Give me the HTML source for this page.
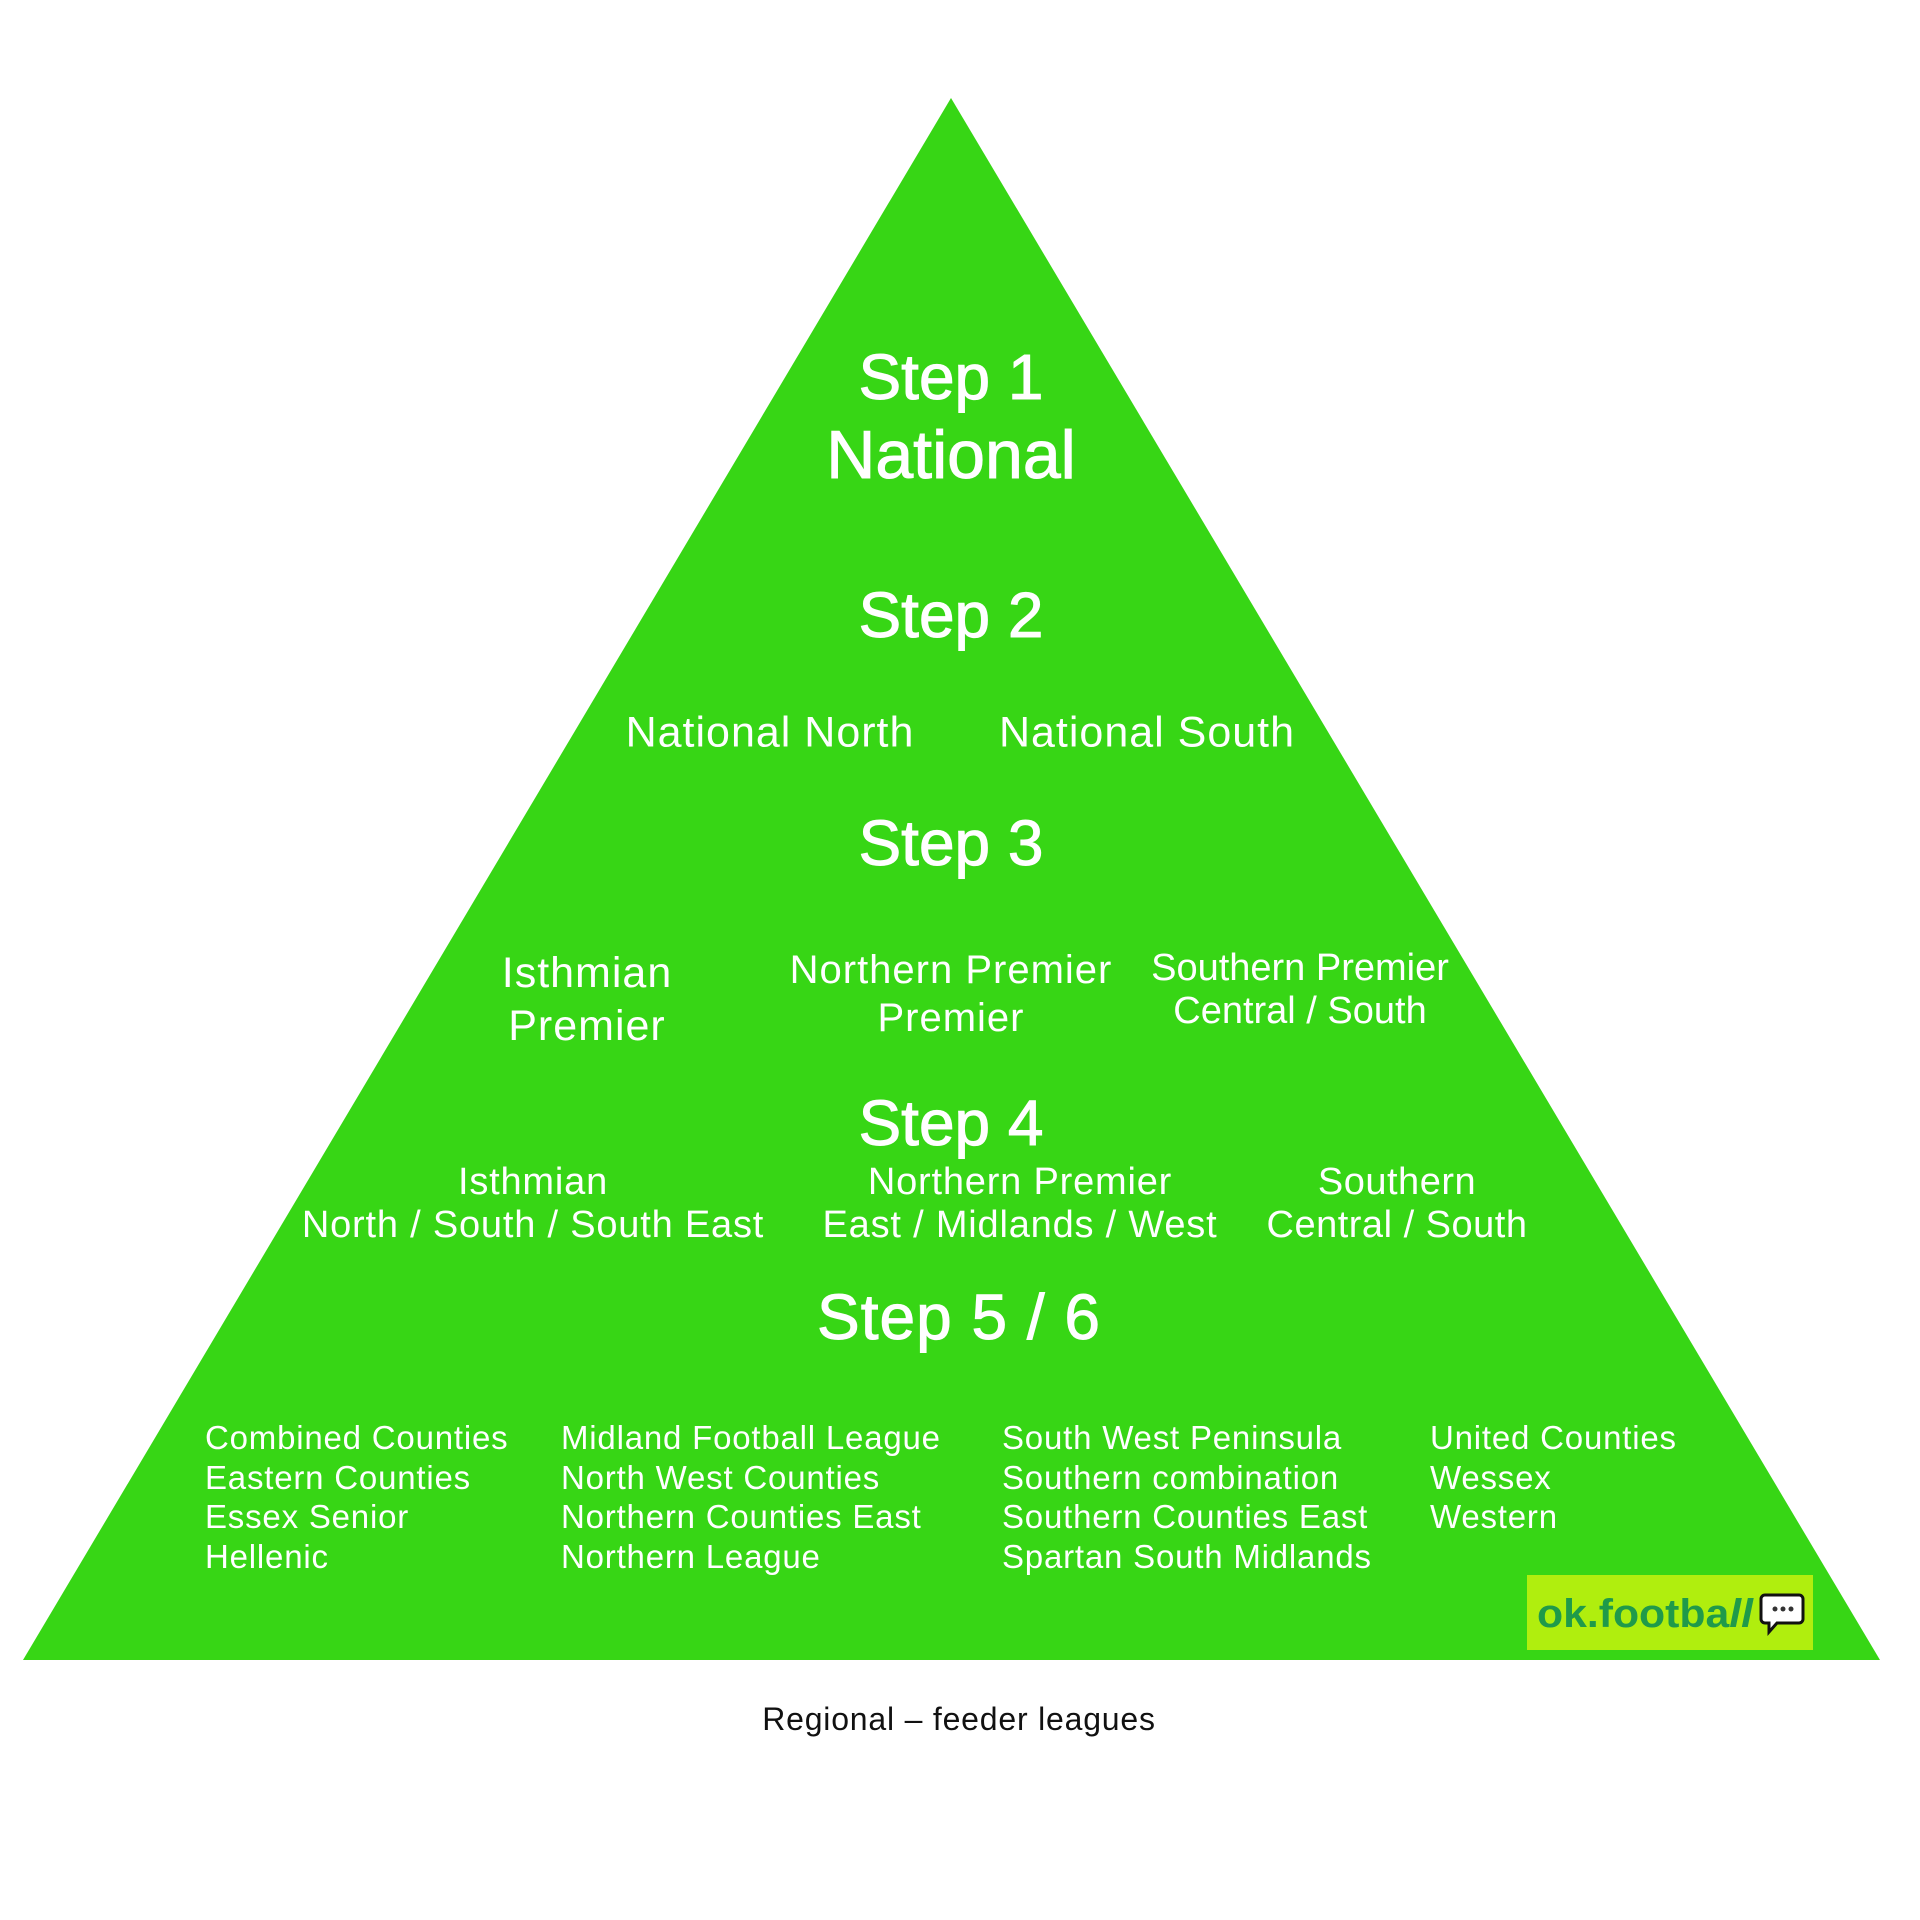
<!DOCTYPE html>
<html><head><meta charset="utf-8"><style>
body{margin:0;width:1920px;height:1920px;background:#fff;position:relative;overflow:hidden;font-family:"Liberation Sans",sans-serif}
.t{position:absolute;color:#fff;transform:translate(-50%,-50%);text-align:center;white-space:nowrap;line-height:1}
.h{-webkit-text-stroke:1px #fff}
.l{position:absolute;color:#fff;font-size:33px;line-height:39.5px;white-space:nowrap;letter-spacing:0.8px}
</style></head><body>
<svg width="1920" height="1920" style="position:absolute;left:0;top:0">
<polygon points="951,98 23,1660 1880,1660" fill="#37d615"/>
<rect x="1527" y="1575" width="286" height="75" fill="#b0ee0e"/>
<text x="1537" y="1627" font-family="Liberation Sans" font-size="40" font-weight="bold" fill="#1f9a4a" textLength="216" lengthAdjust="spacingAndGlyphs">ok.footba<tspan font-style="italic">ll</tspan></text>
<path d="M1765 1595 h34 a4 4 0 0 1 4 4 v20 a4 4 0 0 1 -4 4 h-22 l-8 9 v-9 h-4 a4 4 0 0 1 -4 -4 v-20 a4 4 0 0 1 4 -4z" fill="#fff" stroke="#111" stroke-width="3"/>
<circle cx="1775" cy="1609" r="2.5" fill="#333"/><circle cx="1783" cy="1609" r="2.5" fill="#333"/><circle cx="1791" cy="1609" r="2.5" fill="#333"/>
</svg>
<div class="t h" style="left:951px;top:377px;font-size:64px">Step 1</div>
<div class="t h" style="left:951px;top:455px;font-size:68px">National</div>
<div class="t h" style="left:951px;top:615px;font-size:64px">Step 2</div>
<div class="t" style="left:770px;top:733px;font-size:43px;letter-spacing:1px">National North</div>
<div class="t" style="left:1147px;top:733px;font-size:43px;letter-spacing:1px">National South</div>
<div class="t h" style="left:951px;top:843px;font-size:64px">Step 3</div>
<div class="t" style="left:587px;top:1000px;font-size:43px;line-height:53px;letter-spacing:1px">Isthmian<br>Premier</div>
<div class="t" style="left:951px;top:994px;font-size:40px;line-height:48px;letter-spacing:1px">Northern Premier<br>Premier</div>
<div class="t" style="left:1300px;top:990px;font-size:38px;line-height:43px">Southern Premier<br>Central / South</div>
<div class="t h" style="left:951px;top:1123px;font-size:64px">Step 4</div>
<div class="t" style="left:533px;top:1204px;font-size:38px;line-height:43px;letter-spacing:0.8px">Isthmian<br>North / South / South East</div>
<div class="t" style="left:1020px;top:1204px;font-size:38px;line-height:43px;letter-spacing:0.8px">Northern Premier<br>East / Midlands / West</div>
<div class="t" style="left:1397px;top:1204px;font-size:38px;line-height:43px;letter-spacing:0.5px">Southern<br>Central / South</div>
<div class="t h" style="left:959px;top:1317px;font-size:64px;letter-spacing:1px">Step 5 / 6</div>
<div class="l" style="left:205px;top:1418px">Combined Counties<br>Eastern Counties<br>Essex Senior<br>Hellenic</div>
<div class="l" style="left:561px;top:1418px">Midland Football League<br>North West Counties<br>Northern Counties East<br>Northern League</div>
<div class="l" style="left:1002px;top:1418px">South West Peninsula<br>Southern combination<br>Southern Counties East<br>Spartan South Midlands</div>
<div class="l" style="left:1430px;top:1418px">United Counties<br>Wessex<br>Western</div>
<div class="t" style="left:959px;top:1719px;font-size:32px;color:#111;letter-spacing:0.8px">Regional – feeder leagues</div>
</body></html>
